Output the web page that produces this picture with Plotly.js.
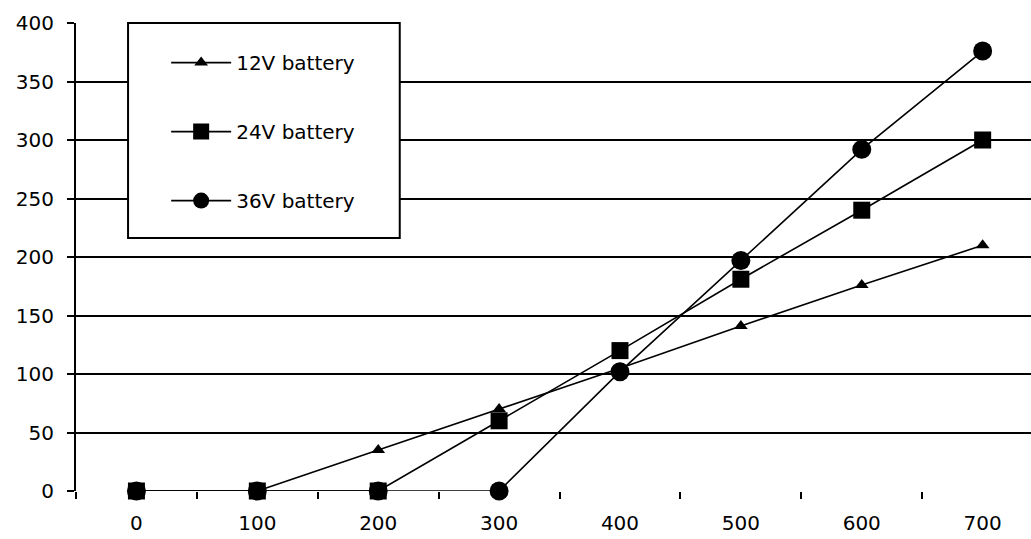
<!DOCTYPE html>
<html>
<head>
<meta charset="utf-8">
<script src="https://cdn.plot.ly/plotly-3.0.1.min.js"></script>
<style>html,body{margin:0;padding:0;background:#fff;}#chart{width:1031px;height:539px;}</style>
</head>
<body>
<div id="chart"></div>
<script>
var xValues = [0, 100, 200, 300, 400, 500, 600, 700];
var xTickLabels = ["0", "100", "200", "300", "400", "500", "600", "700"];
var yTickValues = [0, 50, 100, 150, 200, 250, 300, 350, 400];
var seriesNames = ["12V battery", "24V battery", "36V battery"];
var v12 = [0, 0, 35, 70, 105, 141, 176, 210];
var v24 = [0, 0, 0, 60, 120, 181, 240, 300];
var v36 = [0, 0, 0, 0, 102, 197, 292, 376];

var font = {family: "DejaVu Sans, Liberation Sans, Arial, sans-serif", size: 20, color: "#000"};

function tr(y, name, sym, size, grp) {
  return {
    x: xValues, y: y, name: name, type: "scatter", mode: "lines+markers",
    line: {color: "#000", width: 1.6},
    marker: {symbol: sym, size: size, color: "#000"},
    cliponaxis: false, legendgroup: grp
  };
}
var data = [
  tr(v12, seriesNames[0], "triangle-up", 12, "a"),
  tr(v24, seriesNames[1], "square", 17, "b"),
  tr(v36, seriesNames[2], "circle", 19, "c")
];

var layout = {
  width: 1031, height: 539,
  margin: {l: 76, r: 0, t: 23, b: 48},
  paper_bgcolor: "#fff", plot_bgcolor: "#fff",
  font: font,
  showlegend: true,
  legend: {
    x: 0.0944, y: 0.957, xanchor: "left", yanchor: "top",
    bgcolor: "rgba(0,0,0,0)", borderwidth: 0,
    font: font, tracegroupgap: 40, traceorder: "grouped",
    itemwidth: 60
  },
  xaxis: {
    range: [-50, 740], tickvals: xValues, ticktext: xTickLabels,
    ticks: "", showgrid: false, zeroline: false, showline: false,
    ticklabelstandoff: 18,
    minor: {ticks: "outside", ticklen: 7, tickwidth: 2, tickcolor: "#000", tick0: 50, dtick: 100, showgrid: false},
    tickfont: font, fixedrange: true
  },
  yaxis: {
    range: [0, 400], tickvals: yTickValues,
    ticks: "outside", ticklen: 7, tickwidth: 2, tickcolor: "#000",
    showgrid: true, gridcolor: "#000", gridwidth: 2,
    zeroline: false, showline: true, linecolor: "#000", linewidth: 2,
    ticklabelstandoff: 9,
    tickfont: font, fixedrange: true
  },
  shapes: [{
    type: "rect", xref: "paper", yref: "paper", layer: "above",
    x0: 0.0545, x1: 0.339, y0: 0.5406, y1: 1,
    fillcolor: "#fff", line: {color: "#000", width: 2}
  }]
};
Plotly.newPlot("chart", data, layout, {displayModeBar: false, staticPlot: true});
</script>
</body>
</html>
